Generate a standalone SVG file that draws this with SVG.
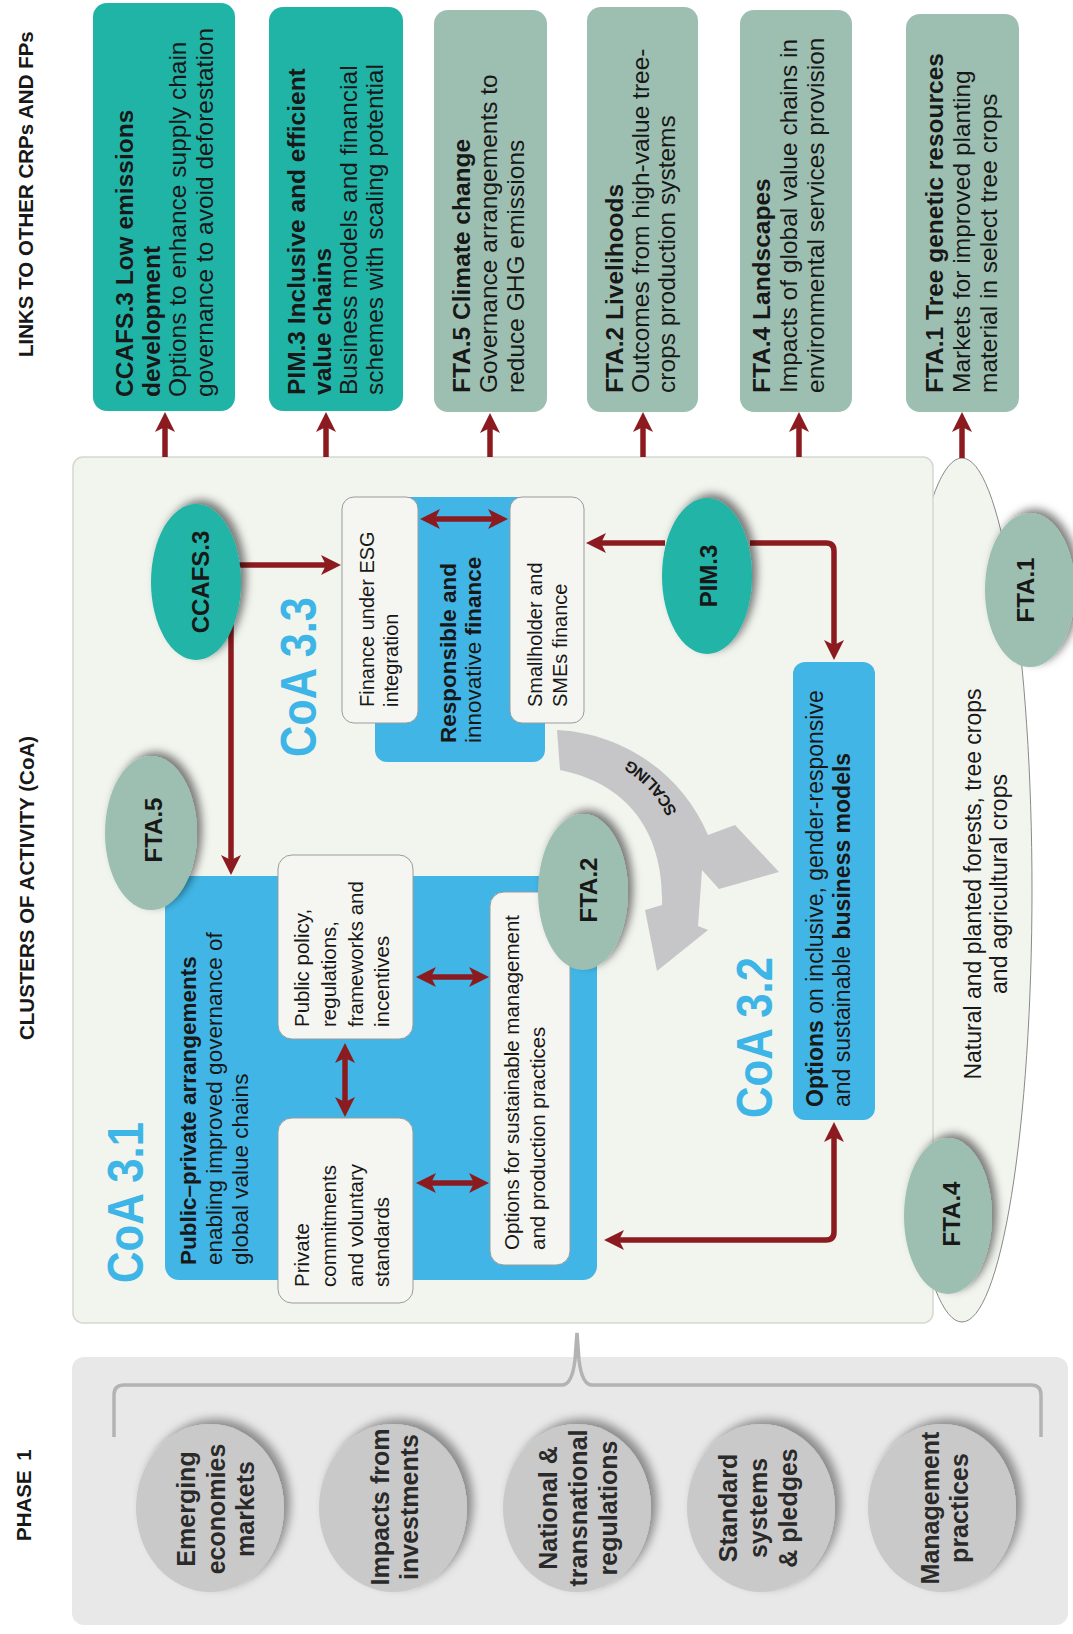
<svg xmlns="http://www.w3.org/2000/svg" width="1073" height="1634" viewBox="0 0 1073 1634">
<defs>
<style>
.t{font-family:"Liberation Sans",Arial,sans-serif;fill:#181818}
.b{font-weight:bold}
.hdr{font-size:20.5px;font-weight:bold}
.lk{font-size:24.5px}
.coa{font-size:50px;font-weight:bold;fill:#3db5e6}
.bx{font-size:20.5px}
.lbl{font-size:24px;font-weight:bold;text-anchor:middle}
.ph{font-size:25px;font-weight:bold;text-anchor:middle;fill:#2a2a2a}
.conn{fill:none;stroke:#8c1b20;stroke-width:5.5}
.arr{marker-end:url(#ah)}
.dbl{marker-start:url(#ah);marker-end:url(#ah)}
.teal{fill:#20b4a7}
.sage{fill:#9dbfb1}
.blue{fill:#41b6e6}
.wbox{fill:#f5f6f2;stroke:#9b9b9b;stroke-width:1}
.circ{fill:#c9c9c9}
</style>
<marker id="ah" viewBox="0 0 20 20" refX="6" refY="10" markerWidth="20" markerHeight="20" markerUnits="userSpaceOnUse" orient="auto-start-reverse"><path d="M0,0 L20,10 L0,20 L5,10 Z" fill="#8c1b20"/></marker>
<filter id="sh" x="-40%" y="-40%" width="180%" height="180%"><feDropShadow dx="5" dy="-4" stdDeviation="4" flood-color="#000" flood-opacity="0.5"/></filter>
<filter id="sh2" x="-40%" y="-40%" width="180%" height="180%"><feDropShadow dx="6" dy="-5" stdDeviation="5" flood-color="#000" flood-opacity="0.4"/></filter>
</defs>
<rect width="1073" height="1634" fill="#ffffff"/>

<g id="headers">
<text class="t hdr" transform="translate(33,357) rotate(-90)">LINKS TO OTHER CRPs AND FPs</text>
<text class="t hdr" transform="translate(34,1040) rotate(-90)">CLUSTERS OF ACTIVITY (CoA)</text>
<text class="t hdr" transform="translate(31,1541) rotate(-90)" word-spacing="4">PHASE 1</text>
</g>

<g id="link-ccafs3">
<rect x="93" y="3" width="142" height="408" rx="14" class="teal"/>
<text class="t lk" transform="translate(133,397) rotate(-90)"><tspan x="0" y="0" class="b">CCAFS.3 Low emissions</tspan><tspan x="0" y="26.5" class="b">development</tspan><tspan x="0" y="53">Options to enhance supply chain</tspan><tspan x="0" y="79.5">governance to avoid deforestation</tspan></text>
</g>
<g id="link-pim3">
<rect x="269" y="7" width="134" height="404" rx="14" class="teal"/>
<text class="t lk" transform="translate(305,395) rotate(-90)"><tspan x="0" y="0" class="b">PIM.3 Inclusive and efficient</tspan><tspan x="0" y="26" class="b">value chains</tspan><tspan x="0" y="52">Business models and financial</tspan><tspan x="0" y="78">schemes with scaling potential</tspan></text>
</g>
<g id="link-fta5">
<rect x="434" y="10" width="113" height="402" rx="14" class="sage"/>
<text class="t lk" transform="translate(470,393) rotate(-90)"><tspan x="0" y="0" class="b">FTA.5 Climate change</tspan><tspan x="0" y="27">Governance arrangements to</tspan><tspan x="0" y="54">reduce GHG emissions</tspan></text>
</g>
<g id="link-fta2">
<rect x="587" y="7" width="111" height="405" rx="14" class="sage"/>
<text class="t lk" transform="translate(623,393) rotate(-90)"><tspan x="0" y="0" class="b">FTA.2 Livelihoods</tspan><tspan x="0" y="26">Outcomes from high-value tree-</tspan><tspan x="0" y="52">crops production systems</tspan></text>
</g>
<g id="link-fta4">
<rect x="740" y="10" width="112" height="402" rx="14" class="sage"/>
<text class="t lk" transform="translate(770,393) rotate(-90)"><tspan x="0" y="0" class="b">FTA.4 Landscapes</tspan><tspan x="0" y="27">Impacts of global value chains in</tspan><tspan x="0" y="54">environmental services provision</tspan></text>
</g>
<g id="link-fta1">
<rect x="906" y="14" width="113" height="398" rx="14" class="sage"/>
<text class="t lk" transform="translate(943,393) rotate(-90)"><tspan x="0" y="0" class="b">FTA.1 Tree genetic resources</tspan><tspan x="0" y="27">Markets for improved planting</tspan><tspan x="0" y="54">material in select tree crops</tspan></text>
</g>

<g id="phase1">
<rect x="72" y="1357" width="996" height="268" rx="12" fill="#e8e8e8"/>
<path d="M114,1437 V1395 Q114,1385 124,1385 H562 Q572,1385 575,1360 L577,1333 L579,1360 Q582,1385 592,1385 H1031 Q1041,1385 1041,1395 V1437" fill="none" stroke="#b3b3b3" stroke-width="3.5"/>
</g>
<g id="p-emerging">
<ellipse cx="210" cy="1508" rx="74" ry="84" class="circ" filter="url(#sh2)"/>
<text class="t ph" transform="translate(195,1509) rotate(-90)"><tspan x="0" y="0">Emerging</tspan><tspan x="0" y="29.5">economies</tspan><tspan x="0" y="59">markets</tspan></text>
</g>
<g id="p-impacts">
<ellipse cx="393" cy="1508" rx="74" ry="84" class="circ" filter="url(#sh2)"/>
<text class="t ph" transform="translate(389,1507) rotate(-90)"><tspan x="0" y="0">Impacts from</tspan><tspan x="0" y="29">investments</tspan></text>
</g>
<g id="p-national">
<ellipse cx="577" cy="1508" rx="74" ry="84" class="circ" filter="url(#sh2)"/>
<text class="t ph" transform="translate(557,1508) rotate(-90)"><tspan x="0" y="0">National &amp;</tspan><tspan x="0" y="30">transnational</tspan><tspan x="0" y="60">regulations</tspan></text>
</g>
<g id="p-standard">
<ellipse cx="761" cy="1508" rx="74" ry="84" class="circ" filter="url(#sh2)"/>
<text class="t ph" transform="translate(737,1508) rotate(-90)"><tspan x="0" y="0">Standard</tspan><tspan x="0" y="30">systems</tspan><tspan x="0" y="60">&amp; pledges</tspan></text>
</g>
<g id="p-management">
<ellipse cx="942" cy="1508" rx="74" ry="84" class="circ" filter="url(#sh2)"/>
<text class="t ph" transform="translate(939,1508) rotate(-90)"><tspan x="0" y="0">Management</tspan><tspan x="0" y="29">practices</tspan></text>
</g>

<g id="landscape">
<ellipse cx="962" cy="890" rx="70" ry="432" fill="#f2f4ee" stroke="#8a8a8a" stroke-width="1"/>
<text class="t" font-size="23" text-anchor="middle" transform="translate(981,884) rotate(-90)"><tspan x="0" y="0">Natural and planted forests, tree crops</tspan><tspan x="0" y="26">and agricultural crops</tspan></text>
</g>

<g id="coa-panel">
<rect x="73" y="457" width="860" height="866" rx="10" fill="#f2f4ee" stroke="#d5d8d0" stroke-width="1.5"/>
</g>

<g id="coa33">
<rect x="375" y="497" width="170" height="265" rx="12" class="blue"/>
<text class="t coa" transform="translate(316,757) rotate(-90)" textLength="160" lengthAdjust="spacingAndGlyphs">CoA 3.3</text>
<text class="t" font-size="22.5" transform="translate(456,743) rotate(-90)"><tspan x="0" y="0" class="b">Responsible and</tspan><tspan x="0" y="25">innovative <tspan class="b">finance</tspan></tspan></text>
</g>
<g id="esg">
<rect x="342" y="497" width="76" height="226" rx="12" class="wbox"/>
<text class="t" font-size="20" transform="translate(374,707) rotate(-90)"><tspan x="0" y="0">Finance under ESG</tspan><tspan x="0" y="24">integration</tspan></text>
</g>
<g id="smallholder">
<rect x="510" y="497" width="74" height="226" rx="12" class="wbox"/>
<text class="t" font-size="20" transform="translate(542,707) rotate(-90)"><tspan x="0" y="0">Smallholder and</tspan><tspan x="0" y="25">SMEs finance</tspan></text>
</g>

<g id="coa31">
<rect x="165" y="876" width="432" height="404" rx="14" class="blue"/>
<text class="t coa" transform="translate(143,1283) rotate(-90)" textLength="161" lengthAdjust="spacingAndGlyphs">CoA 3.1</text>
<text class="t" font-size="22.5" transform="translate(196,1265) rotate(-90)"><tspan x="0" y="0" class="b">Public–private arrangements</tspan><tspan x="0" y="26">enabling improved governance of</tspan><tspan x="0" y="52">global value chains</tspan></text>
</g>
<g id="public-policy">
<rect x="278" y="855" width="135" height="184" rx="14" class="wbox"/>
<text class="t bx" transform="translate(309,1027) rotate(-90)"><tspan x="0" y="0">Public policy,</tspan><tspan x="0" y="27">regulations,</tspan><tspan x="0" y="54">frameworks and</tspan><tspan x="0" y="80">incentives</tspan></text>
</g>
<g id="private">
<rect x="278" y="1118" width="135" height="185" rx="14" class="wbox"/>
<text class="t bx" transform="translate(309,1287) rotate(-90)"><tspan x="0" y="0">Private</tspan><tspan x="0" y="27">commitments</tspan><tspan x="0" y="54">and voluntary</tspan><tspan x="0" y="80">standards</tspan></text>
</g>
<g id="options-smp">
<rect x="490" y="892" width="80" height="373" rx="14" class="wbox"/>
<text class="t bx" transform="translate(519,1250) rotate(-90)"><tspan x="0" y="0">Options for sustainable management</tspan><tspan x="0" y="26">and production practices</tspan></text>
</g>

<g id="coa32">
<rect x="793" y="662" width="82" height="458" rx="12" class="blue"/>
<text class="t coa" transform="translate(772,1118) rotate(-90)" textLength="161" lengthAdjust="spacingAndGlyphs">CoA 3.2</text>
<text class="t" font-size="23" transform="translate(823,1107) rotate(-90)"><tspan x="0" y="0"><tspan class="b">Options</tspan> on inclusive, gender-responsive</tspan><tspan x="0" y="27">and sustainable <tspan class="b">business models</tspan></tspan></text>
</g>

<g id="scaling">
<path d="M557,730 C622,733 682,773 708,835 L735,825 L779,872 L719,889 L702,870 L698,926 L708,930 L657,971 L645,910 L662,905 C664,835 630,784 560,770 Z" fill="#c6c6c8"/>
<path id="sp" d="M677,812 Q656,768 604,747" fill="none"/>
<text class="t b" font-size="16" fill="#2a2a2a"><textPath href="#sp">SCALING</textPath></text>
</g>

<g id="connectors">
<path class="conn arr" d="M165,457 V426"/>
<path class="conn arr" d="M326,457 V426"/>
<path class="conn arr" d="M490,457 V427"/>
<path class="conn arr" d="M643,457 V426"/>
<path class="conn arr" d="M799,457 V426"/>
<path class="conn arr" d="M962,458 V426"/>
<path class="conn arr" d="M235,565 H327"/>
<path class="conn arr" d="M231,620 V861"/>
<path class="conn arr" d="M665,543 H600"/>
<path class="conn arr" d="M750,543 H826 Q834,543 834,551 V646"/>
<path class="conn dbl" d="M834,1136 V1232 Q834,1240 826,1240 H618"/>
<path class="conn dbl" d="M434,519 H494"/>
<path class="conn dbl" d="M345,1057 V1103"/>
<path class="conn dbl" d="M430,977 H475"/>
<path class="conn dbl" d="M430,1183 H475"/>
</g>

<g id="n-ccafs3">
<ellipse cx="196" cy="582" rx="45" ry="78" class="teal" filter="url(#sh)"/>
<text class="t lbl" transform="translate(209,582) rotate(-90)">CCAFS.3</text>
</g>
<g id="n-fta5">
<ellipse cx="151" cy="833" rx="46" ry="77" class="sage" filter="url(#sh)"/>
<text class="t lbl" transform="translate(162,830) rotate(-90)">FTA.5</text>
</g>
<g id="n-pim3">
<ellipse cx="707" cy="576" rx="45" ry="78" class="teal" filter="url(#sh)"/>
<text class="t lbl" transform="translate(717,576) rotate(-90)">PIM.3</text>
</g>
<g id="n-fta2">
<ellipse cx="583" cy="892" rx="45" ry="78" class="sage" filter="url(#sh)"/>
<text class="t lbl" transform="translate(597,890) rotate(-90)">FTA.2</text>
</g>
<g id="n-fta4">
<ellipse cx="948" cy="1216" rx="44" ry="78" class="sage" filter="url(#sh)"/>
<text class="t lbl" transform="translate(960,1214) rotate(-90)">FTA.4</text>
</g>
<g id="n-fta1">
<ellipse cx="1030" cy="590" rx="45" ry="77" class="sage" filter="url(#sh)"/>
<text class="t lbl" transform="translate(1034,590) rotate(-90)">FTA.1</text>
</g>
</svg>
